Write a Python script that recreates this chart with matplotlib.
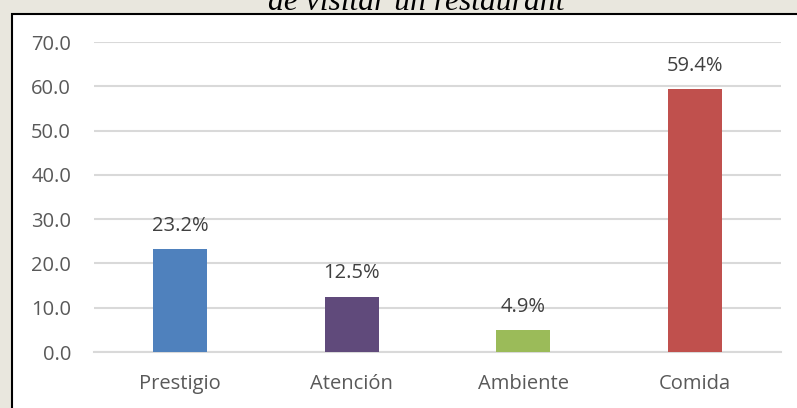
import matplotlib.pyplot as plt
from matplotlib.patches import Rectangle

categorias = ['Prestigio', 'Atención', 'Ambiente', 'Comida']
porcentajes = [23.2, 12.5, 4.9, 59.4]
colores = ['#4f81bd', '#604a7b', '#9bbb59', '#c0504d']
yticks = [0, 10, 20, 30, 40, 50, 60, 70]

W, H = 797, 408
fig = plt.figure(figsize=(W / 100, H / 100), dpi=100, facecolor='#e9e7de')
plt.rcParams['font.family'] = ['Open Sans', 'DejaVu Sans']

# caja blanca del grafico (se sale por la derecha y por abajo)
caja = Rectangle((11.5 / W, -0.1), 1.2, 1 - 13.5 / H + 0.1, transform=fig.transFigure,
                 facecolor='white', edgecolor='black', linewidth=1.5, zorder=-5)
fig.patches.append(caja)

# titulo cortado arriba
fig.text(0.522, 1 - 9.5 / H, 'de visitar un restaurant', ha='center', va='baseline',
         fontsize=22.8, style='italic', family='Liberation Serif', color='black')

ax = fig.add_axes([94 / W, 1 - 352 / H, (781 - 94) / W, (352 - 42) / H])
ax.set_facecolor('none')
x = range(len(categorias))
ax.bar(x, porcentajes, width=0.315, color=colores, zorder=3)
for i, v in enumerate(porcentajes):
    ax.annotate(f'{v}%', (i, v), xytext=(0, 9.5), textcoords='offset points',
                ha='center', va='bottom', fontsize=14.5, color='#404040')

ax.set_xlim(-0.5, 3.5)
ax.set_ylim(0, 70)
ax.set_yticks(yticks)
ax.set_yticklabels([f'{t:.1f}' for t in yticks])
ax.set_xticks(list(x))
ax.set_xticklabels(categorias)
ax.grid(axis='y', color='#d9d9d9', linewidth=1.5, zorder=0)
ax.tick_params(length=0, labelsize=14.5, labelcolor='#595959')
ax.tick_params(axis='y', pad=16.5)
ax.tick_params(axis='x', pad=16)
for s in ['top', 'right', 'left']:
    ax.spines[s].set_visible(False)
ax.spines['bottom'].set_color('#d9d9d9')
ax.spines['bottom'].set_linewidth(1.5)

fig.savefig('out.png', dpi=100, facecolor=fig.get_facecolor())
